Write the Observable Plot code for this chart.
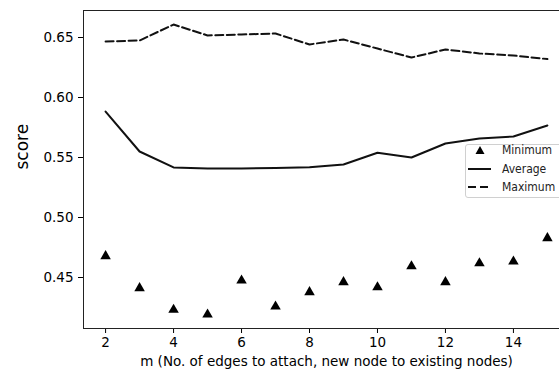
<!DOCTYPE html>
<html>
<head>
<meta charset="utf-8">
<script src="https://cdn.jsdelivr.net/npm/d3@7"></script>
<script src="https://cdn.jsdelivr.net/npm/@observablehq/plot@0.6"></script>
<style>
  html, body { margin: 0; padding: 0; background: #fff; }
  #wrap { position: relative; width: 559px; height: 375px; overflow: hidden; }
  #wrap > svg { max-width: none !important; }
  #legend { position: absolute; left: 465px; top: 144px; width: 120px; height: 54px;
    background: rgba(255,255,255,0.85); border: 1px solid #d0d0d0; border-radius: 3px;
    font-family: "DejaVu Sans Condensed", "DejaVu Sans", sans-serif; font-size: 12px; color: #222; box-sizing: border-box; }
  #legend .row { position: absolute; left: -1px; height: 14px; display: flex; align-items: center; white-space: nowrap; }
  #legend svg { width: 34px; height: 14px; margin-right: 3px; flex: none; }
</style>
</head>
<body>
<div id="wrap"></div>
<script>
const ms = [2, 3, 4, 5, 6, 7, 8, 9, 10, 11, 12, 13, 14, 15];
const minimum = [0.4678, 0.4411, 0.4231, 0.4192, 0.4475, 0.4258, 0.4378, 0.4461, 0.4419, 0.4594, 0.4461, 0.4619, 0.4633, 0.4828];
const average = [0.5883, 0.5550, 0.5417, 0.5408, 0.5408, 0.5412, 0.5418, 0.5442, 0.5540, 0.5500, 0.5617, 0.5658, 0.5675, 0.5767];
const maximum = [0.6467, 0.6475, 0.6608, 0.6517, 0.6525, 0.6533, 0.6442, 0.6483, 0.6408, 0.6333, 0.6400, 0.6367, 0.6350, 0.6320];
const xTicks = [2, 4, 6, 8, 10, 12, 14];
const yTicks = [0.45, 0.50, 0.55, 0.60, 0.65];
const seriesNames = ["Minimum", "Average", "Maximum"];
const xLabel = "m (No. of edges to attach, new node to existing nodes)";
const yLabel = "score";

const data = ms.map((m, i) => ({m, min: minimum[i], avg: average[i], max: maximum[i]}));

const chart = Plot.plot({
  width: 580,
  height: 375,
  marginLeft: 83,
  marginRight: 11,
  marginTop: 10,
  marginBottom: 47,
  style: {fontFamily: "DejaVu Sans, sans-serif", fontSize: "13.5px", color: "#000", background: "#fff", maxWidth: "none"},
  x: {domain: [1.35, 15.65]},
  y: {domain: [0.4075, 0.6725]},
  marks: [
    Plot.axisX({ticks: xTicks, tickSize: 5, tickPadding: 4, label: null, tickFormat: d => d, fontSize: 13.5}),
    Plot.axisY({ticks: yTicks, tickSize: 5, tickPadding: 5, label: null, tickFormat: d3.format(".2f"), fontSize: 13.5}),
    Plot.line(data, {x: "m", y: "max", stroke: "#111", strokeWidth: 2, strokeDasharray: "8,3.5"}),
    Plot.line(data, {x: "m", y: "avg", stroke: "#111", strokeWidth: 2}),
    Plot.dot(data, {x: "m", y: "min", symbol: "triangle", fill: "#000", r: 3.9}),
    Plot.frame({stroke: "#222", strokeWidth: 1}),
    Plot.text([yLabel], {frameAnchor: "left", dx: -61, rotate: -90, fontSize: 17, text: d => d}),
    Plot.text([xLabel], {frameAnchor: "bottom", dy: 37, fontSize: 13.5, text: d => d})
  ]
});
chart.style.maxWidth = "none";
const wrap = document.getElementById("wrap");
wrap.appendChild(chart);

const legend = document.createElement("div");
legend.id = "legend";
const swatches = [
  '<svg viewBox="0 0 34 14"><path d="M15,3 L19.5,11 L10.5,11 Z" fill="#000"/></svg>',
  '<svg viewBox="0 0 34 14"><line x1="3" y1="7" x2="26" y2="7" stroke="#111" stroke-width="2"/></svg>',
  '<svg viewBox="0 0 34 14"><line x1="3" y1="7" x2="27" y2="7" stroke="#111" stroke-width="2" stroke-dasharray="8,4"/></svg>'
];
const rowTops = [-2, 16.5, 35];
seriesNames.forEach((name, i) => {
  const row = document.createElement("div");
  row.className = "row";
  row.style.top = rowTops[i] + "px";
  row.innerHTML = swatches[i] + "<span>" + name + "</span>";
  legend.appendChild(row);
});
wrap.appendChild(legend);
</script>
</body>
</html>
